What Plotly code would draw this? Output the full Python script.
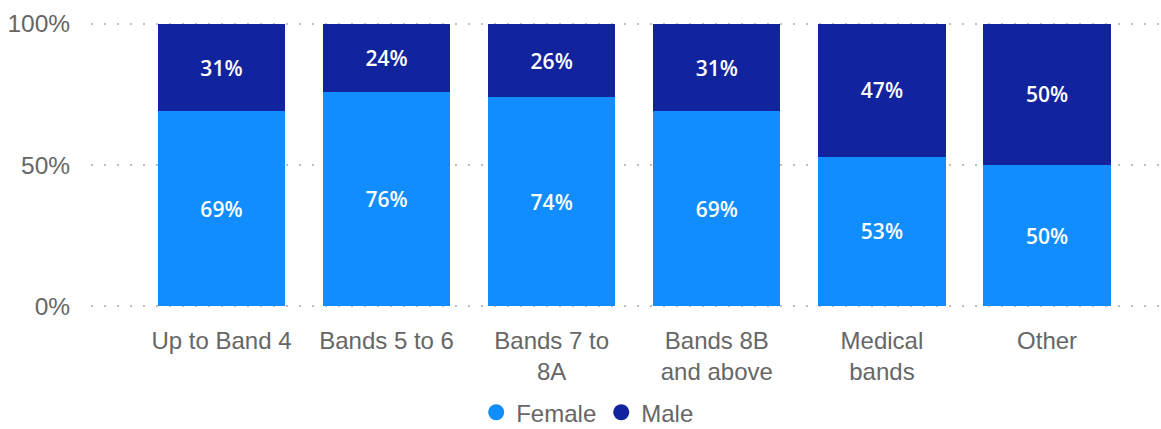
import plotly.graph_objects as go

categories = ["Up to Band 4", "Bands 5 to 6", "Bands 7 to<br>8A", "Bands 8B<br>and above", "Medical<br>bands", "Other"]
female = [69, 76, 74, 69, 53, 50]
male = [31, 24, 26, 31, 47, 50]
y_ticks = [0, 50, 100]
y_tick_labels = ["0%", "50%", "100%"]

FEMALE_COLOR = "#118DFF"
MALE_COLOR = "#12239E"
FONT = "Liberation Sans, Arial, sans-serif"
LABEL_FONT = "Open Sans, Segoe UI, sans-serif"
TEXT_COLOR = "#666666"

fig = go.Figure()
for name, vals, color in [("Female", female, FEMALE_COLOR), ("Male", male, MALE_COLOR)]:
    fig.add_trace(go.Bar(
        x=categories, y=vals, name=name, marker=dict(color=color, line=dict(width=0)),
        width=0.77, text=[f"{v}%" for v in vals], textposition="inside",
        insidetextanchor="middle", textangle=0,
        textfont=dict(color="white", size=21, family=LABEL_FONT, weight=600),
        showlegend=False, hoverinfo="skip",
    ))

# circular legend markers
for name, color in [("Female", FEMALE_COLOR), ("Male", MALE_COLOR)]:
    fig.add_trace(go.Scatter(
        x=[None], y=[None], mode="markers", name=name,
        marker=dict(symbol="circle", size=16, color=color),
    ))

fig.update_layout(
    barmode="stack",
    width=1161, height=429,
    margin=dict(l=91, r=0, t=21, b=120, autoexpand=False),
    paper_bgcolor="white", plot_bgcolor="white",
    font=dict(family=FONT, color=TEXT_COLOR, size=24),
    legend=dict(orientation="h", x=0.36, xanchor="left", y=-0.36, yref="paper",
                yanchor="middle", traceorder="normal",
                font=dict(size=24, color=TEXT_COLOR),
                itemwidth=30, itemsizing="trace", tracegroupgap=0),
    uniformtext=dict(minsize=10, mode="show"),
)
fig.update_xaxes(
    range=[-0.79, 5.69], showgrid=False, zeroline=False, showline=False,
    ticks="outside", ticklen=10, tickcolor="rgba(0,0,0,0)",
    tickfont=dict(size=24, color=TEXT_COLOR),
)
fig.update_yaxes(
    range=[-1, 101], tickvals=y_ticks, ticktext=y_tick_labels,
    showgrid=True, gridcolor="#BDBDBD", gridwidth=1.5, griddash="2px,11px",
    zeroline=False, showline=False, ticks="outside", ticklen=15, tickcolor="rgba(0,0,0,0)",
    tickfont=dict(size=24.5, color=TEXT_COLOR),
)

fig.write_html("out.html")
